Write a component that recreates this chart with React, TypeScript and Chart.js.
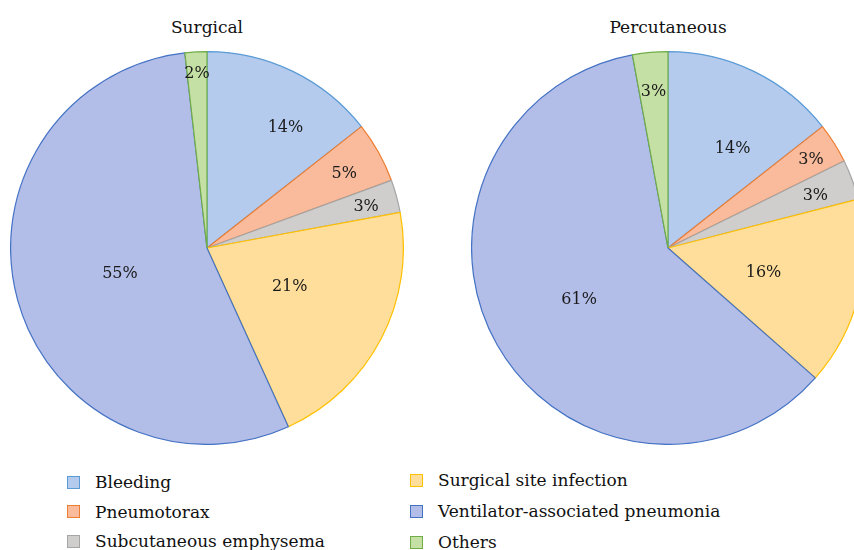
import React, { useEffect, useRef } from "react";
import { Chart, registerables } from "chart.js";

Chart.register(...registerables);

const categories = [
  "Bleeding",
  "Pneumotorax",
  "Subcutaneous emphysema",
  "Surgical site infection",
  "Ventilator-associated pneumonia",
  "Others",
];
const surgicalValues = [14.4, 5.0, 2.7, 21.1, 55.0, 1.8];
const percutaneousValues = [14.4, 3.3, 3.3, 15.5, 60.6, 2.9];
const chartTitles = ["Surgical", "Percutaneous"];

const fillColors = ["#b4cbee", "#f9bb9c", "#d0cdcd", "#fede9a", "#b2bde8", "#c5e0a4"];
const borderColors = ["#5b9bd5", "#ed7d31", "#a5a5a5", "#ffc000", "#4472c4", "#70ad47"];
const labelRadiusSurgical = [0.74, 0.8, 0.84, 0.46, 0.46, 0.9];
const labelRadiusPercutaneous = [0.61, 0.86, 0.8, 0.5, 0.52, 0.81];
const labelAngleFracSurgical = [0.63, 0.5, 0.5, 0.45, 0.5, 0.5];
const labelAngleFracPercutaneous = [0.63, 0.5, 0.5, 0.5, 0.5, 0.5];

const FONT = "DejaVu Serif";

const labelPlugin = {
  id: "pctLabels",
  afterDatasetsDraw(chart: any) {
    const radii: number[] = chart.options.plugins.pctLabels.radii;
    const fracs: number[] = chart.options.plugins.pctLabels.fracs;
    const meta = chart.getDatasetMeta(0);
    const data = chart.data.datasets[0].data as number[];
    const total = data.reduce((a, b) => a + b, 0);
    const ctx = chart.ctx;
    ctx.save();
    ctx.font = `16px "${FONT}"`;
    ctx.fillStyle = "#1a1a1a";
    ctx.textAlign = "center";
    ctx.textBaseline = "middle";
    meta.data.forEach((arc: any, i: number) => {
      const ang = arc.startAngle + (arc.endAngle - arc.startAngle) * fracs[i];
      const r = arc.outerRadius * radii[i];
      const x = arc.x + Math.cos(ang) * r;
      const y = arc.y + Math.sin(ang) * r + 2;
      ctx.fillText(Math.round((data[i] / total) * 100) + "%", x, y);
    });
    ctx.restore();
  },
};

function Pie({ values, radii, fracs, left }: { values: number[]; radii: number[]; fracs: number[]; left: number }) {
  const ref = useRef<HTMLCanvasElement>(null);
  useEffect(() => {
    const chart = new Chart(ref.current!, {
      type: "pie",
      data: {
        labels: categories,
        datasets: [
          {
            data: values,
            backgroundColor: fillColors,
            borderColor: borderColors,
            borderWidth: 1.2,
          },
        ],
      },
      options: {
        animation: false,
        responsive: false,
        maintainAspectRatio: false,
        layout: { padding: 0 },
        plugins: {
          legend: { display: false },
          tooltip: { enabled: false },
          title: { display: false },
          // @ts-ignore
          pctLabels: { radii, fracs },
        },
      },
      plugins: [labelPlugin],
    });
    return () => chart.destroy();
  }, []);
  return (
    <canvas
      ref={ref}
      width={394}
      height={394}
      style={{ position: "absolute", left, top: 51, width: 394, height: 394 }}
    />
  );
}

export default function App() {
  const legendLeft = categories.slice(0, 3);
  const legendRight = categories.slice(3);
  const item = (c: string, i: number, x: number, y: number) => (
    <div key={c} style={{ position: "absolute", left: x, top: y, height: 20, display: "flex", alignItems: "center" }}>
      <div
        style={{
          width: 11,
          height: 11,
          background: fillColors[i],
          border: `1.5px solid ${borderColors[i]}`,
          marginRight: 15,
        }}
      />
      <span style={{ fontFamily: FONT, fontSize: 17, color: "#111", whiteSpace: "nowrap" }}>{c}</span>
    </div>
  );
  return (
    <div
      style={{
        position: "fixed",
        left: 0,
        top: 0,
        width: 854,
        height: 550,
        overflow: "hidden",
        background: "#fff",
      }}
    >
      <div style={{ position: "absolute", left: 0, width: 414, top: 17, textAlign: "center", fontFamily: FONT, fontSize: 17, color: "#111" }}>
        {chartTitles[0]}
      </div>
      <div style={{ position: "absolute", left: 461, width: 414, top: 17, textAlign: "center", fontFamily: FONT, fontSize: 17, color: "#111" }}>
        {chartTitles[1]}
      </div>
      <Pie values={surgicalValues} radii={labelRadiusSurgical} fracs={labelAngleFracSurgical} left={10} />
      <Pie values={percutaneousValues} radii={labelRadiusPercutaneous} fracs={labelAngleFracPercutaneous} left={471} />
      {legendLeft.map((c, i) => item(c, i, 67, 472 + i * 29.5))}
      {legendRight.map((c, i) => item(c, i + 3, 410, 470 + i * 31))}
    </div>
  );
}
